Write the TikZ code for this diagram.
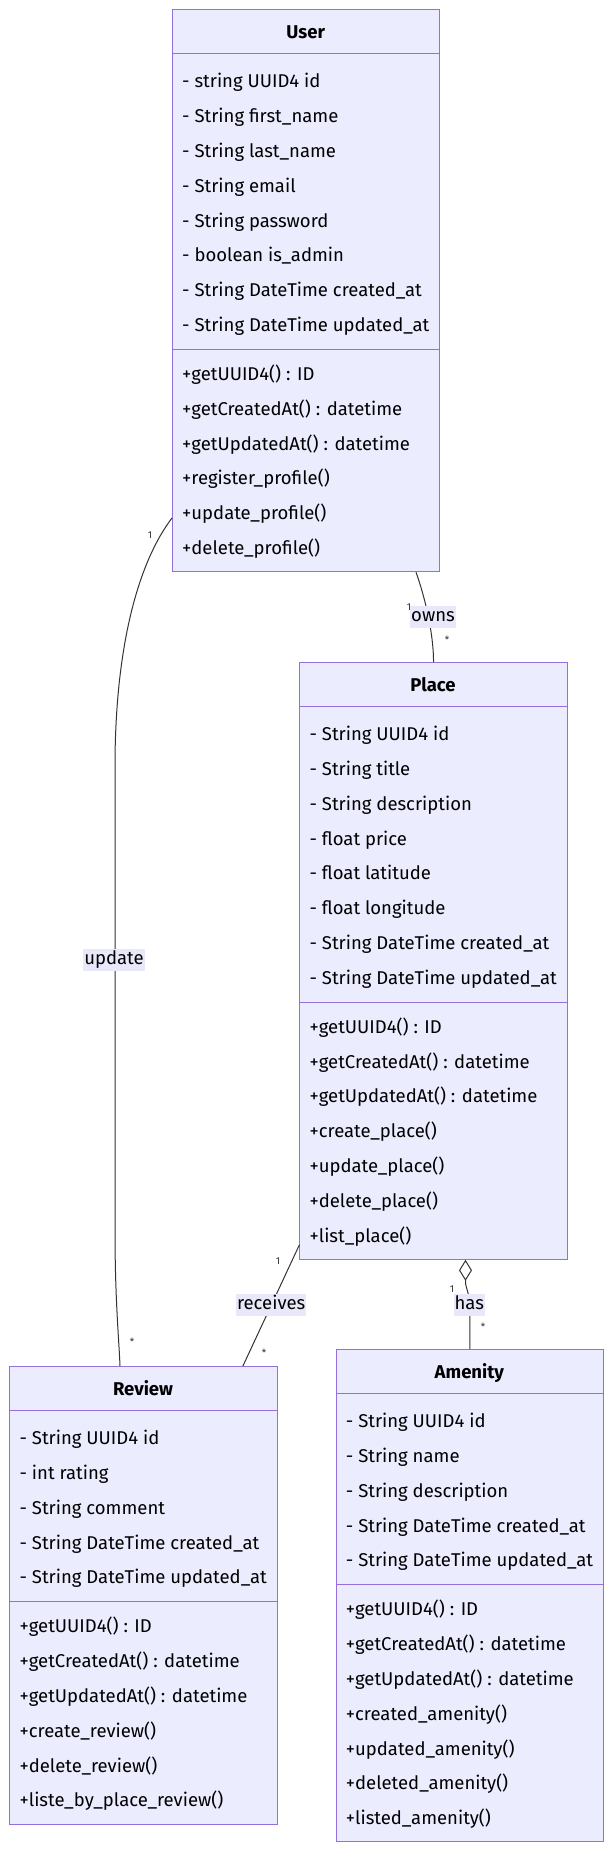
\documentclass[tikz,border=0pt]{standalone}
\usepackage{fontspec}
\setmainfont{Fira Sans}
\usetikzlibrary{calc,arrows.meta}

\definecolor{classfill}{HTML}{ECECFF}
\definecolor{classline}{HTML}{9370DB}
\definecolor{linkgray}{HTML}{333333}
\definecolor{labelfill}{RGB}{232,232,250}

\begin{document}
\begin{tikzpicture}[x=1pt, y=-1pt]
    % ===== PARAMETERS =====
    \pgfmathsetmacro{\W}{267.3}   % class box width
    \pgfmathsetmacro{\Head}{44.4} % title band height
    \pgfmathsetmacro{\Row}{34.8}  % row pitch
    \pgfmathsetmacro{\Pad}{10}    % text inset
    \pgfmathsetmacro{\Base}{6.3}  % row centre to baseline

    % ===== STYLES =====
    \tikzset{
        classbox/.style={draw=classline, fill=classfill, line width=1pt,
            minimum width=\W pt, anchor=north west, inner sep=0pt},
        classname/.style={font=\bfseries\fontsize{18.5}{22}\selectfont,
            anchor=base, inner sep=0pt},
        member/.style={font=\fontsize{18.5}{22}\selectfont, anchor=base west, inner sep=0pt},
        rule/.style={draw=classline, line width=1pt},
        link/.style={draw=linkgray, line width=1pt},
        linklabel/.style={fill=labelfill, font=\fontsize{18.5}{22}\selectfont,
            text height=13pt, text depth=4pt, inner xsep=1pt, inner ysep=2.5pt},
        mult/.style={font=\fontsize{10}{12}\selectfont, text=linkgray, inner sep=0pt}
    }

    \useasboundingbox (0,0) rectangle (612,1861);

    % ===== USER =====
    \pgfmathsetmacro{\X}{172}
    \pgfmathsetmacro{\Y}{9.2}
    \pgfmathsetmacro{\Hgt}{\Head+100+\Row*(8+6-2)}
    \pgfmathsetmacro{\Div}{\Y+\Head+28+\Row*7+24}
    \node[classbox, minimum height=\Hgt pt] (user) at (\X,\Y) {};
    \node[classname] (user-name) at (\X+\W/2,\Y+29.7) {User};
    \draw[rule] (\X,\Y+\Head) -- (\X+\W,\Y+\Head);
    \draw[rule] (\X,\Div) -- (\X+\W,\Div);
    \foreach \txt [count=\i] in {- string UUID4 id, - String first\_name, - String last\_name,
        - String email, - String password, - boolean is\_admin,
        - String DateTime created\_at, - String DateTime updated\_at} {
        \pgfmathsetmacro{\yy}{\Y+\Head+28+\Row*(\i-1)+\Base}
        \node[member] (user-a\i) at (\X+\Pad,\yy) {\txt};
    }
    \foreach \txt [count=\i] in {+getUUID4() : ID, +getCreatedAt() : datetime,
        +getUpdatedAt() : datetime, +register\_profile(), +update\_profile(),
        +delete\_profile()} {
        \pgfmathsetmacro{\yy}{\Div+25+\Row*(\i-1)+\Base}
        \node[member] (user-m\i) at (\X+\Pad,\yy) {\txt};
    }

    % ===== PLACE =====
    \pgfmathsetmacro{\X}{299.4}
    \pgfmathsetmacro{\Y}{662}
    \pgfmathsetmacro{\Hgt}{\Head+100+\Row*(8+7-2)}
    \pgfmathsetmacro{\Div}{\Y+\Head+28+\Row*7+24}
    \node[classbox, minimum height=\Hgt pt] (place) at (\X,\Y) {};
    \node[classname] (place-name) at (\X+\W/2,\Y+29.7) {Place};
    \draw[rule] (\X,\Y+\Head) -- (\X+\W,\Y+\Head);
    \draw[rule] (\X,\Div) -- (\X+\W,\Div);
    \foreach \txt [count=\i] in {- String UUID4 id, - String title, - String description,
        - float price, - float latitude, - float longitude,
        - String DateTime created\_at, - String DateTime updated\_at} {
        \pgfmathsetmacro{\yy}{\Y+\Head+28+\Row*(\i-1)+\Base}
        \node[member] (place-a\i) at (\X+\Pad,\yy) {\txt};
    }
    \foreach \txt [count=\i] in {+getUUID4() : ID, +getCreatedAt() : datetime,
        +getUpdatedAt() : datetime, +create\_place(), +update\_place(),
        +delete\_place(), +list\_place()} {
        \pgfmathsetmacro{\yy}{\Div+25+\Row*(\i-1)+\Base}
        \node[member] (place-m\i) at (\X+\Pad,\yy) {\txt};
    }

    % ===== REVIEW =====
    \pgfmathsetmacro{\X}{9.4}
    \pgfmathsetmacro{\Y}{1366}
    \pgfmathsetmacro{\Hgt}{\Head+100+\Row*(5+6-2)}
    \pgfmathsetmacro{\Div}{\Y+\Head+28+\Row*4+24}
    \node[classbox, minimum height=\Hgt pt] (review) at (\X,\Y) {};
    \node[classname] (review-name) at (\X+\W/2,\Y+29.7) {Review};
    \draw[rule] (\X,\Y+\Head) -- (\X+\W,\Y+\Head);
    \draw[rule] (\X,\Div) -- (\X+\W,\Div);
    \foreach \txt [count=\i] in {- String UUID4 id, - int rating, - String comment,
        - String DateTime created\_at, - String DateTime updated\_at} {
        \pgfmathsetmacro{\yy}{\Y+\Head+28+\Row*(\i-1)+\Base}
        \node[member] (review-a\i) at (\X+\Pad,\yy) {\txt};
    }
    \foreach \txt [count=\i] in {+getUUID4() : ID, +getCreatedAt() : datetime,
        +getUpdatedAt() : datetime, +create\_review(), +delete\_review(),
        +liste\_by\_place\_review()} {
        \pgfmathsetmacro{\yy}{\Div+25+\Row*(\i-1)+\Base}
        \node[member] (review-m\i) at (\X+\Pad,\yy) {\txt};
    }

    % ===== AMENITY =====
    \pgfmathsetmacro{\X}{335.7}
    \pgfmathsetmacro{\Y}{1349}
    \pgfmathsetmacro{\Hgt}{\Head+100+\Row*(5+7-2)}
    \pgfmathsetmacro{\Div}{\Y+\Head+28+\Row*4+24}
    \node[classbox, minimum height=\Hgt pt] (amenity) at (\X,\Y) {};
    \node[classname] (amenity-name) at (\X+\W/2,\Y+29.7) {Amenity};
    \draw[rule] (\X,\Y+\Head) -- (\X+\W,\Y+\Head);
    \draw[rule] (\X,\Div) -- (\X+\W,\Div);
    \foreach \txt [count=\i] in {- String UUID4 id, - String name, - String description,
        - String DateTime created\_at, - String DateTime updated\_at} {
        \pgfmathsetmacro{\yy}{\Y+\Head+28+\Row*(\i-1)+\Base}
        \node[member] (amenity-a\i) at (\X+\Pad,\yy) {\txt};
    }
    \foreach \txt [count=\i] in {+getUUID4() : ID, +getCreatedAt() : datetime,
        +getUpdatedAt() : datetime, +created\_amenity(), +updated\_amenity(),
        +deleted\_amenity(), +listed\_amenity()} {
        \pgfmathsetmacro{\yy}{\Div+25+\Row*(\i-1)+\Base}
        \node[member] (amenity-m\i) at (\X+\Pad,\yy) {\txt};
    }

    % ===== LINKS =====
    % User -- Review : update
    \coordinate (update-s) at ($(user.north west)+(0,508.8)$);
    \coordinate (update-e) at ($(review.north west)+(110.6,0)$);
    \draw[link] (update-s) .. controls +(-32,42) and +(1,-120) .. (115,760)
        -- (115,1230) .. controls +(0,70) and +(-1,-26) .. (update-e);
    \node[linklabel] (update-lbl) at (114,960) {update};
    \node[mult] (update-m1) at (150,535) {1};
    \node[mult] (update-m2) at (132,1342) {*};

    % User -- Place : owns
    \coordinate (owns-s) at ($(user.south west)+(244,0)$);
    \draw[link] (owns-s) .. controls +(8,22) and +(0,-30) .. (place.north);
    \node[linklabel] (owns-lbl) at (433,617) {owns};
    \node[mult] (owns-m1) at (409,607) {1};
    \node[mult] (owns-m2) at (447,640) {*};

    % Place -- Review : receives
    \coordinate (recv-s) at ($(place.south west)+(0,-15)$);
    \coordinate (recv-e) at ($(review.north west)+(233.5,0)$);
    \draw[link] (recv-s) -- node[linklabel] (recv-lbl) {receives} (recv-e);
    \node[mult] (recv-m1) at (278,1261) {1};
    \node[mult] (recv-m2) at (264,1353) {*};

    % Place <>-- Amenity : has
    \coordinate (has-s) at ($(place.south west)+(166.1,0)$);
    \draw[link, -{Diamond[open, length=21pt, width=13pt]}] (amenity.north) -- ++(0,-49)
        -- ($(has-s)+(0,24)$) -- (has-s);
    \node[linklabel] (has-lbl) at (469.3,1305) {has};
    \node[mult] (has-m1) at (452,1289) {1};
    \node[mult] (has-m2) at (483,1327) {*};
\end{tikzpicture}
\end{document}
